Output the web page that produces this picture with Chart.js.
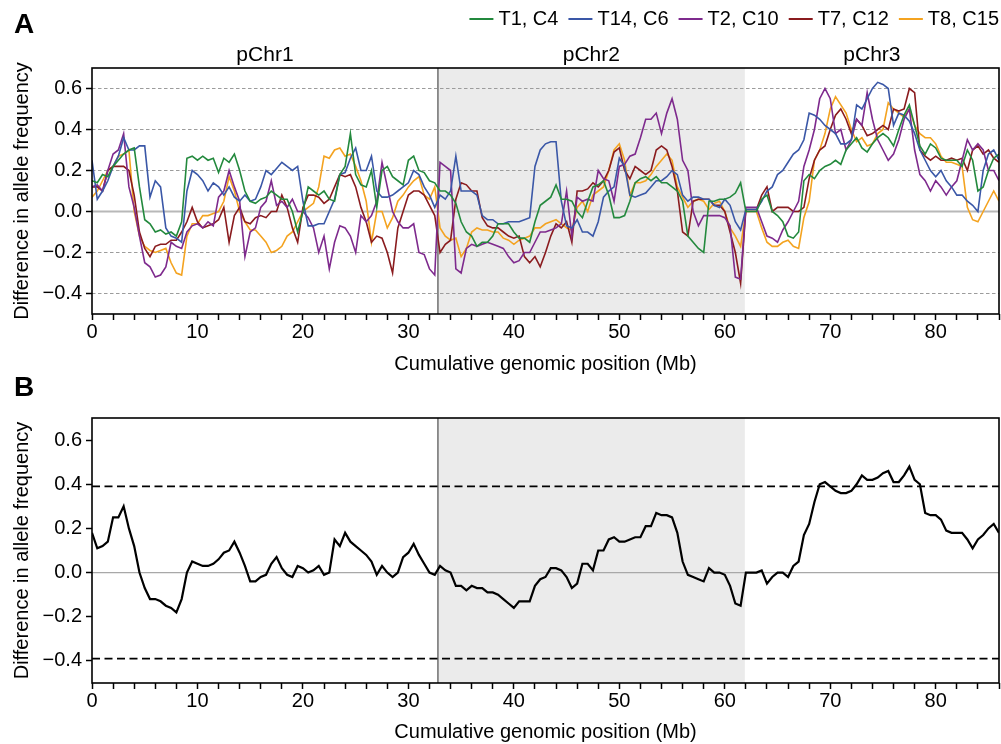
<!DOCTYPE html>
<html>
<head>
<meta charset="utf-8">
<script src="https://cdn.jsdelivr.net/npm/chart.js@4.4.1/dist/chart.umd.min.js"></script>
<style>
  html, body { margin: 0; padding: 0; background: #fff; overflow: hidden; }
  canvas { position: absolute; left: 0; }
  #panelA { top: 0; }
  #panelB { top: 376px; }
</style>
</head>
<body>
<canvas id="panelA" width="1001" height="376"></canvas>
<canvas id="panelB" width="1001" height="368"></canvas>
<script>
// window positions along the concatenated genome (Mb)
const positions = [
  0, 0.5, 1, 1.5, 2, 2.5, 3, 3.5, 4, 4.5,
  5, 5.5, 6, 6.5, 7, 7.5, 8, 8.5, 9, 9.5,
  10, 10.5, 11, 11.5, 12, 12.5, 13, 13.5, 14, 14.5,
  15, 15.5, 16, 16.5, 17, 17.5, 18, 18.5, 19, 19.5,
  20, 20.5, 21, 21.5, 22, 22.5, 23, 23.5, 24, 24.5,
  25, 25.5, 26, 26.5, 27, 27.5, 28, 28.5, 29, 29.5,
  30, 30.5, 31, 31.5, 32, 32.5, 33, 33.5, 34, 34.5,
  35, 35.5, 36, 36.5, 37, 37.5, 38, 38.5, 39, 39.5,
  40, 40.5, 41, 41.5, 42, 42.5, 43, 43.5, 44, 44.5,
  45, 45.5, 46, 46.5, 47, 47.5, 48, 48.5, 49, 49.5,
  50, 50.5, 51, 51.5, 52, 52.5, 53, 53.5, 54, 54.5,
  55, 55.5, 56, 56.5, 57, 57.5, 58, 58.5, 59, 59.5,
  60, 60.5, 61, 61.5, 62, 62.5, 63, 63.5, 64, 64.5,
  65, 65.5, 66, 66.5, 67, 67.5, 68, 68.5, 69, 69.5,
  70, 70.5, 71, 71.5, 72, 72.5, 73, 73.5, 74, 74.5,
  75, 75.5, 76, 76.5, 77, 77.5, 78, 78.5, 79, 79.5,
  80, 80.5, 81, 81.5, 82, 82.5, 83, 83.5, 84, 84.5,
  85, 85.5, 86
];

const chromNames = ['pChr1', 'pChr2', 'pChr3'];
const chromStarts = [0, 32.8, 61.9];
const chromEnds = [32.8, 61.9, 86];

const seriesNames = ['T1, C4', 'T14, C6', 'T2, C10', 'T7, C12', 'T8, C15'];
const seriesColors = ['#23893d', '#3a57a7', '#7e2a8d', '#8a1b1e', '#f4a320'];

const t1c4 = [
  0.15, 0.14, 0.18, 0.17, 0.22, 0.25, 0.28, 0.3, 0.31, 0.12,
  -0.04, -0.06, -0.1, -0.09, -0.11, -0.1, -0.12, -0.05, 0.26, 0.27,
  0.25, 0.27, 0.25, 0.26, 0.19, 0.26, 0.24, 0.28, 0.2, 0.1,
  0.05, 0.04, 0.06, 0.07, 0.1, 0.08, 0.06, 0.06, 0.0, -0.1,
  0.0, 0.12, 0.1, 0.08, 0.1, 0.06, 0.05, 0.18, 0.22, 0.38,
  0.18, 0.13, 0.12, 0.2, 0.02, 0.2, 0.22, 0.17, 0.15, 0.13,
  0.25, 0.27, 0.2, 0.19, 0.15, 0.14, 0.1, 0.1, 0.08, 0.04,
  -0.05, -0.1, -0.12, -0.17, -0.15, -0.15, -0.12, -0.06, -0.06, -0.06,
  -0.1, -0.13, -0.13, -0.15, -0.05, 0.03, 0.05, 0.07, 0.13, 0.06,
  0.06, 0.05, 0.0, -0.03, 0.05, 0.12, 0.13, 0.15, 0.08, -0.03,
  -0.03, -0.02, 0.05, 0.14, 0.16, 0.17, 0.15, 0.17, 0.14, 0.14,
  0.12, 0.1, 0.05, -0.12, -0.15, -0.18, -0.2, 0.05, 0.05, 0.06,
  0.06, 0.07, 0.09, 0.14, 0.0, 0.0, 0.0, 0.06, 0.08, 0.0,
  -0.02, -0.05, -0.12, -0.13, -0.1, 0.15, 0.18, 0.16, 0.2, 0.22,
  0.23, 0.25, 0.23, 0.3, 0.33, 0.36, 0.31, 0.29, 0.33, 0.36,
  0.38, 0.36, 0.32, 0.4, 0.47, 0.52, 0.42, 0.32, 0.28, 0.33,
  0.31, 0.26, 0.25, 0.25, 0.25, 0.22, 0.3, 0.25, 0.1, 0.12,
  0.2, 0.26, 0.28
];

const t14c6 = [
  0.25, 0.06, 0.1, 0.15, 0.22, 0.27, 0.36, 0.3, 0.3, 0.32,
  0.32, 0.07, 0.15, 0.12, -0.08, -0.12, -0.13, -0.15, 0.1, 0.2,
  0.18, 0.15, 0.1, 0.14, 0.12, 0.08, 0.12, 0.07, 0.05, 0.08,
  0.05, 0.06, 0.12, 0.2, 0.18, 0.21, 0.24, 0.22, 0.2, 0.22,
  0.05, -0.07, -0.07, -0.06, -0.06, 0.0, 0.06, 0.18, 0.19, 0.26,
  0.31, 0.2, 0.2, 0.27, 0.1, 0.07, 0.07, 0.08, 0.1, 0.12,
  0.14, 0.2, 0.18, 0.12, 0.08, 0.02, 0.08, 0.06, 0.1, 0.27,
  0.1, 0.1, 0.1, 0.08, -0.02, -0.04, -0.04, -0.06, -0.06, -0.05,
  -0.05, -0.05, -0.04, -0.03, 0.22, 0.3, 0.33, 0.34, 0.34, 0.05,
  -0.07, -0.08, -0.04, -0.1, -0.1, -0.12, -0.05, 0.07, 0.1, 0.12,
  0.26, 0.22, 0.08, 0.07, 0.08, 0.09, 0.12, 0.15, 0.15, 0.17,
  0.2, 0.18, 0.08, 0.05, 0.07, 0.07, 0.06, 0.06, 0.03, 0.02,
  0.06, 0.03, -0.05, -0.09, 0.01, 0.01, 0.01, 0.05, 0.1, 0.12,
  0.18, 0.2, 0.24, 0.28, 0.3, 0.35, 0.48, 0.47, 0.45, 0.42,
  0.4, 0.38, 0.33, 0.33, 0.35, 0.52, 0.5, 0.55, 0.6, 0.63,
  0.62, 0.6, 0.42, 0.48, 0.47, 0.44, 0.38, 0.3, 0.25, 0.2,
  0.17, 0.2, 0.15, 0.12, 0.08, 0.08, 0.05, 0.03, 0.0, 0.2,
  0.28, 0.3, 0.25
];

const t2c10 = [
  0.12, 0.13, 0.1, 0.2, 0.28, 0.3, 0.38, 0.12, 0.02, -0.12,
  -0.25, -0.27, -0.32, -0.31, -0.27, -0.15, -0.17, -0.18, -0.1, -0.07,
  -0.06, -0.08, -0.05, -0.07, 0.07, 0.1, 0.2, 0.12, 0.05, -0.22,
  -0.1, -0.08, 0.02, 0.05, 0.15, 0.03, 0.05, 0.02, 0.06, 0.0,
  0.0, -0.03, -0.08, -0.2, -0.12, -0.28, -0.15, -0.07, -0.08, -0.12,
  -0.2, -0.02, -0.05, -0.02, 0.05, 0.24, 0.12, 0.0, -0.05, -0.08,
  -0.08, -0.06, -0.2, -0.21, -0.28, -0.31, 0.24, 0.22, 0.2, -0.28,
  -0.3, -0.18, -0.16, -0.17, -0.16, -0.15, -0.16, -0.17, -0.18, -0.22,
  -0.25, -0.24, -0.2, -0.2, -0.15, -0.1, -0.1, -0.09, -0.08, -0.06,
  0.1, -0.12, 0.07, 0.05, 0.06, 0.05, 0.2, 0.16, 0.15, 0.05,
  0.22, 0.23, 0.27, 0.28, 0.36, 0.45, 0.45, 0.48, 0.38, 0.48,
  0.55, 0.45, 0.25, 0.2, 0.0, -0.07, -0.02, -0.02, -0.02, -0.02,
  -0.03, -0.07, -0.32, -0.33, 0.02, 0.02, 0.02, -0.05, -0.12, -0.13,
  -0.15, -0.09, -0.05, 0.0, 0.05, 0.22, 0.3, 0.4, 0.55, 0.6,
  0.55, 0.38, 0.4, 0.3, 0.35, 0.45, 0.42, 0.58, 0.45, 0.35,
  0.3, 0.25, 0.28, 0.35, 0.45, 0.5, 0.3, 0.18, 0.15, 0.1,
  0.15, 0.12, 0.08, 0.12, 0.15, 0.25, 0.35, 0.3, 0.33, 0.3,
  0.2, 0.2, 0.15
];

const t7c12 = [
  0.12, 0.12, 0.1, 0.2, 0.22, 0.22, 0.22, 0.2, 0.08, -0.1,
  -0.18, -0.22, -0.17, -0.16, -0.16, -0.14, -0.14, -0.1, -0.05, 0.02,
  -0.05, -0.08, -0.07, -0.06, -0.04, 0.02, -0.15, -0.02, 0.02, -0.05,
  -0.06, -0.03, -0.02, -0.03, 0.0, 0.0, 0.08, 0.02, -0.08, -0.15,
  0.02, 0.08, 0.08, 0.07, 0.04, 0.06, 0.12, 0.18, 0.17, 0.18,
  0.12, 0.02, -0.05, -0.15, -0.12, -0.13, -0.2, -0.3, -0.08, 0.0,
  0.08, 0.1, 0.1, 0.08, 0.03, -0.02, -0.2, -0.16, -0.14, 0.06,
  0.14, 0.13, 0.1, 0.1, -0.03, -0.07, -0.08, -0.08, -0.1, -0.12,
  -0.13, -0.12, -0.22, -0.25, -0.22, -0.27, -0.2, -0.12, -0.06, -0.08,
  -0.05, -0.15, 0.1, 0.1, 0.11, 0.14, 0.12, 0.15, 0.2, 0.29,
  0.31, 0.2, 0.16, 0.22, 0.2, 0.18, 0.2, 0.3, 0.32, 0.3,
  0.22, 0.1, -0.1, -0.12, 0.05, 0.06, 0.06, 0.06, 0.03, 0.03,
  0.0, -0.1, -0.2, -0.35, 0.01, 0.01, 0.01, 0.08, 0.12, 0.0,
  0.02, 0.02, 0.02, 0.0, 0.0, 0.02, 0.16, 0.25, 0.3, 0.32,
  0.4, 0.47, 0.5, 0.45, 0.38, 0.45, 0.42, 0.37, 0.38, 0.4,
  0.42, 0.4, 0.5, 0.49, 0.5, 0.6, 0.58, 0.3, 0.27, 0.25,
  0.27, 0.25, 0.25, 0.26, 0.25, 0.26, 0.2, 0.3, 0.32, 0.28,
  0.3, 0.26, 0.24
];

const t8c15 = [
  0.07, 0.1, 0.15, 0.2, 0.22, 0.27, 0.28, 0.3, 0.0, -0.12,
  -0.17, -0.19, -0.2, -0.19, -0.18, -0.25, -0.3, -0.31, -0.12, -0.06,
  -0.06, -0.02, -0.02, -0.01, 0.0, 0.05, 0.17, 0.1, 0.0, -0.05,
  -0.09, -0.09, -0.12, -0.15, -0.2, -0.19, -0.17, -0.12, -0.1, -0.05,
  0.0, 0.02, 0.04, 0.12, 0.27, 0.26, 0.3, 0.31, 0.27, 0.28,
  0.22, 0.15, 0.05, -0.15, 0.0, 0.0, -0.08, -0.03, 0.05, 0.08,
  0.12, 0.15, 0.17, 0.08, 0.06, 0.12, -0.08, -0.12, -0.14, -0.13,
  -0.22, -0.18, -0.1, -0.08, -0.09, -0.09, -0.1, -0.1, -0.13, -0.14,
  -0.16, -0.14, -0.13, -0.12, -0.08, -0.08, -0.06, -0.05, -0.04, -0.06,
  -0.08, -0.09, 0.02, 0.05, 0.0, 0.08, 0.1, 0.12, 0.2, 0.3,
  0.33, 0.25, 0.08, 0.14, 0.14, 0.15, 0.18, 0.22, 0.25, 0.28,
  0.25, 0.12, 0.07, 0.02, 0.05, 0.06, 0.05, 0.01, 0.04, 0.05,
  0.0, -0.08, -0.12, -0.17, 0.0, 0.0, 0.0, -0.08, -0.15, -0.17,
  -0.17, -0.15, -0.14, -0.17, -0.18, -0.03, 0.05, 0.25, 0.3, 0.38,
  0.5, 0.56, 0.52, 0.48, 0.4, 0.34, 0.36, 0.32, 0.33, 0.38,
  0.4, 0.53, 0.5, 0.48, 0.46, 0.5, 0.42, 0.38, 0.36, 0.36,
  0.33, 0.27, 0.24, 0.24, 0.23, 0.22, 0.02, -0.04, -0.05, 0.0,
  0.05, 0.1, 0.05
];

// combined difference across all replicate pairs
const meanDiff = [
  0.18, 0.11, 0.12, 0.14, 0.25, 0.25, 0.3, 0.2, 0.12, 0.0,
  -0.07, -0.12, -0.12, -0.13, -0.15, -0.16, -0.18, -0.12, 0.0, 0.05,
  0.04, 0.03, 0.03, 0.04, 0.06, 0.09, 0.1, 0.14, 0.09, 0.03,
  -0.04, -0.04, -0.02, -0.01, 0.04, 0.07, 0.02, -0.01, -0.02, 0.03,
  0.02, 0.0, 0.01, 0.03, -0.01, 0.0, 0.15, 0.12, 0.18, 0.14,
  0.12, 0.1, 0.08, 0.05, -0.01, 0.03, 0.0, -0.02, 0.0, 0.07,
  0.09, 0.13, 0.08, 0.04, 0.0, -0.01, 0.03, 0.01, 0.0, -0.06,
  -0.06, -0.08, -0.06, -0.07, -0.07, -0.09, -0.09, -0.1, -0.12, -0.14,
  -0.16, -0.13, -0.13, -0.13, -0.06, -0.03, -0.02, 0.02, 0.02, 0.01,
  -0.02, -0.07, -0.05, 0.04, 0.04, 0.01, 0.1, 0.1, 0.15, 0.16,
  0.14, 0.14, 0.15, 0.16, 0.16, 0.21, 0.21, 0.27, 0.26, 0.26,
  0.25, 0.18, 0.05, -0.01, -0.02, -0.03, -0.04, 0.02, 0.0, 0.0,
  -0.01, -0.06, -0.14, -0.15, 0.0, 0.0, 0.0, 0.01, -0.05, -0.02,
  0.0, 0.0, -0.02, 0.03, 0.05, 0.17, 0.22, 0.32, 0.4, 0.41,
  0.39, 0.37, 0.36, 0.36, 0.37, 0.4, 0.44, 0.42, 0.42, 0.43,
  0.45, 0.46, 0.41, 0.41, 0.44, 0.48, 0.42, 0.4, 0.27, 0.26,
  0.26, 0.24, 0.19, 0.18, 0.18, 0.18, 0.15, 0.11, 0.15, 0.17,
  0.2, 0.22, 0.18
];

const threshold = 0.39;
const yTicks = [-0.4, -0.2, 0, 0.2, 0.4, 0.6];

const FONT = '"Liberation Sans", Arial, Helvetica, sans-serif';
Chart.defaults.font.family = FONT;
Chart.defaults.color = '#000';

function toPoints(vals) {
  return positions.map((x, i) => ({ x: x, y: vals[i] }));
}

// shading, gridlines, frame, chromosome names, panel letter, legend
const genomePanel = {
  id: 'genomePanel',
  beforeDatasetsDraw(chart, args, opts) {
    const { ctx, chartArea: a, scales: { x, y } } = chart;
    ctx.save();
    const s0 = x.getPixelForValue(chromStarts[1]);
    const s1 = x.getPixelForValue(chromEnds[1]);
    ctx.fillStyle = '#ebebeb';
    ctx.fillRect(s0, a.top, s1 - s0, a.bottom - a.top);

    if (opts.dashedGrid) {
      ctx.strokeStyle = '#9c9c9c';
      ctx.lineWidth = 1.2;
      ctx.setLineDash([3.5, 2.5]);
      yTicks.filter(v => v !== 0).forEach(v => {
        const py = y.getPixelForValue(v);
        ctx.beginPath();
        ctx.moveTo(a.left, py);
        ctx.lineTo(a.right, py);
        ctx.stroke();
      });
      ctx.setLineDash([]);
    }

    const z = y.getPixelForValue(0);
    ctx.strokeStyle = opts.zeroColor;
    ctx.lineWidth = opts.zeroWidth;
    ctx.beginPath();
    ctx.moveTo(a.left, z);
    ctx.lineTo(a.right, z);
    ctx.stroke();

    ctx.strokeStyle = '#858585';
    ctx.lineWidth = 1.8;
    ctx.beginPath();
    ctx.moveTo(s0, a.top);
    ctx.lineTo(s0, a.bottom);
    ctx.stroke();
    ctx.restore();
  },
  afterDraw(chart, args, opts) {
    const { ctx, chartArea: a, scales: { x } } = chart;
    ctx.save();
    ctx.strokeStyle = '#000';
    ctx.lineWidth = 1.6;
    ctx.strokeRect(a.left, a.top, a.right - a.left, a.bottom - a.top);

    ctx.fillStyle = '#000';
    ctx.font = 'bold 28px ' + FONT;
    ctx.textAlign = 'left';
    ctx.textBaseline = 'alphabetic';
    ctx.fillText(opts.letter, 14, opts.letterY);

    if (opts.chromLabels) {
      ctx.font = '21px ' + FONT;
      ctx.textAlign = 'center';
      chromNames.forEach((name, i) => {
        const cx = x.getPixelForValue((chromStarts[i] + chromEnds[i]) / 2);
        ctx.fillText(name, cx, a.top - 7);
      });
    }

    if (opts.legend) {
      ctx.font = '20px ' + FONT;
      ctx.textAlign = 'left';
      ctx.textBaseline = 'middle';
      const sets = chart.data.datasets;
      const widths = sets.map(d => ctx.measureText(d.label).width);
      const total = widths.reduce((s, w) => s + 24 + 5 + w, 0) + 10 * (sets.length - 1);
      let lx = 999 - total;
      const ly = 19;
      sets.forEach((d, i) => {
        ctx.strokeStyle = d.borderColor;
        ctx.lineWidth = 2;
        ctx.beginPath();
        ctx.moveTo(lx, ly);
        ctx.lineTo(lx + 24, ly);
        ctx.stroke();
        ctx.fillText(d.label, lx + 29, ly);
        lx += 29 + widths[i] + 10;
      });
    }
    ctx.restore();
  }
};

function scalesFor(yWidth, xHeight) {
  return {
    x: {
      type: 'linear',
      min: 0,
      max: 86,
      ticks: {
        stepSize: 2,
        autoSkip: false,
        includeBounds: false,
        maxRotation: 0,
        padding: 0,
        font: { size: 20 },
        callback: v => (Math.round(v) % 10 === 0 ? String(Math.round(v)) : '')
      },
      grid: { drawOnChartArea: false, tickLength: 6, tickWidth: 1.5, tickColor: '#000' },
      border: { display: false },
      title: {
        display: true,
        text: 'Cumulative genomic position (Mb)',
        font: { size: 20 },
        padding: { top: 0, bottom: 0 }
      },
      afterFit: s => { s.height = xHeight; }
    },
    y: {
      type: 'linear',
      min: -0.5,
      max: 0.7,
      afterBuildTicks: s => { s.ticks = yTicks.map(v => ({ value: v })); },
      ticks: {
        padding: 4,
        font: { size: 20 },
        callback: v => (v < -1e-9 ? '\u2212' : '') + Math.abs(v).toFixed(1)
      },
      grid: { drawOnChartArea: false, tickLength: 6, tickWidth: 1.5, tickColor: '#000' },
      border: { display: false },
      title: {
        display: true,
        text: 'Difference in allele frequency',
        font: { size: 20 },
        padding: { top: 0, bottom: 0 }
      },
      afterFit: s => { s.width = yWidth; }
    }
  };
}

const replicates = [t1c4, t14c6, t2c10, t7c12, t8c15];

new Chart(document.getElementById('panelA'), {
  type: 'line',
  data: {
    datasets: replicates.map((vals, i) => ({
      label: seriesNames[i],
      data: toPoints(vals),
      borderColor: seriesColors[i],
      borderWidth: 1.6,
      pointRadius: 0,
      tension: 0
    }))
  },
  options: {
    responsive: false,
    animation: false,
    layout: { padding: { left: 10, right: 2, top: 68, bottom: 0 } },
    scales: scalesFor(82, 62),
    plugins: {
      legend: { display: false },
      tooltip: { enabled: false },
      genomePanel: {
        dashedGrid: true, zeroColor: '#b8b8b8', zeroWidth: 2,
        letter: 'A', letterY: 33, chromLabels: true, legend: true
      }
    }
  },
  plugins: [genomePanel]
});

new Chart(document.getElementById('panelB'), {
  type: 'line',
  data: {
    datasets: [
      {
        label: 'mean',
        data: toPoints(meanDiff),
        borderColor: '#000',
        borderWidth: 2.2,
        pointRadius: 0,
        tension: 0,
        order: 0
      },
      {
        label: 'upper threshold',
        data: [{ x: 0, y: threshold }, { x: 86, y: threshold }],
        borderColor: '#000',
        borderWidth: 1.8,
        borderDash: [8, 4.5],
        pointRadius: 0,
        order: 1
      },
      {
        label: 'lower threshold',
        data: [{ x: 0, y: -threshold }, { x: 86, y: -threshold }],
        borderColor: '#000',
        borderWidth: 1.8,
        borderDash: [8, 4.5],
        pointRadius: 0,
        order: 1
      }
    ]
  },
  options: {
    responsive: false,
    animation: false,
    layout: { padding: { left: 10, right: 2, top: 42, bottom: 0 } },
    scales: scalesFor(82, 61),
    plugins: {
      legend: { display: false },
      tooltip: { enabled: false },
      genomePanel: {
        dashedGrid: false, zeroColor: '#a8a8a8', zeroWidth: 1.3,
        letter: 'B', letterY: 20, chromLabels: false, legend: false
      }
    }
  },
  plugins: [genomePanel]
});
</script>
</body>
</html>
